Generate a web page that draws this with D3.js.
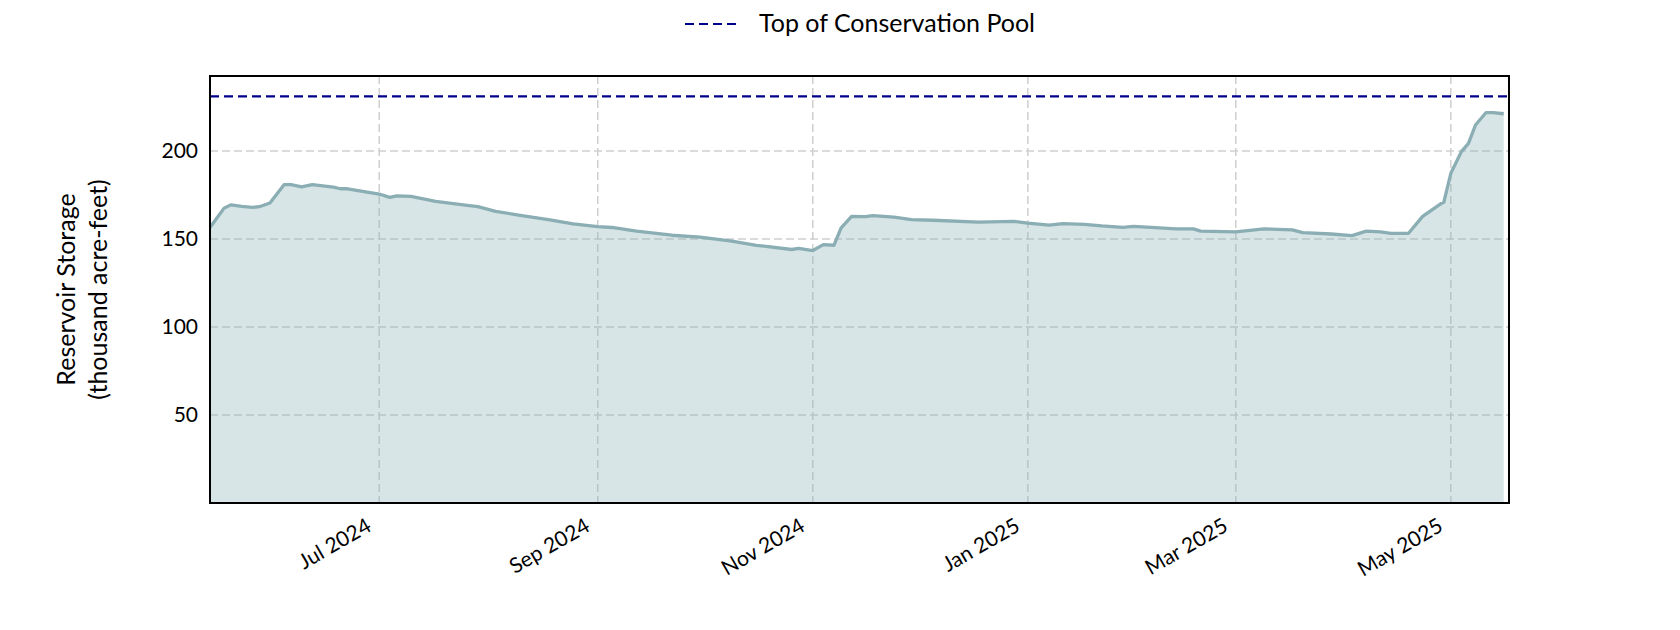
<!DOCTYPE html>
<html>
<head>
<meta charset="utf-8">
<script src="https://cdn.jsdelivr.net/npm/d3@7"></script>
<style>
  body { margin: 0; background: #fff; }
  svg text { font-family: Lato, "Noto Sans", sans-serif; fill: #000; }
</style>
</head>
<body>
<svg id="chart" width="1680" height="630"></svg>
<script>
// storage readings (thousand acre-feet)
const dates = [
  '2024-05-14', '2024-05-18', '2024-05-20', '2024-05-23', '2024-05-26', '2024-05-28', '2024-05-31',
  '2024-06-04', '2024-06-06', '2024-06-09', '2024-06-12', '2024-06-18', '2024-06-20', '2024-06-22',
  '2024-07-01', '2024-07-04', '2024-07-06', '2024-07-10', '2024-07-17', '2024-07-26', '2024-07-29',
  '2024-08-03', '2024-08-10', '2024-08-18', '2024-08-25', '2024-09-01', '2024-09-05', '2024-09-12',
  '2024-09-22', '2024-09-30', '2024-10-09', '2024-10-16', '2024-10-26', '2024-10-28', '2024-11-01',
  '2024-11-04', '2024-11-07', '2024-11-09', '2024-11-12', '2024-11-16', '2024-11-18', '2024-11-24',
  '2024-11-29', '2024-12-05', '2024-12-18', '2024-12-28', '2025-01-01', '2025-01-07', '2025-01-11',
  '2025-01-17', '2025-01-22', '2025-01-28', '2025-01-31', '2025-02-05', '2025-02-12', '2025-02-17',
  '2025-02-19', '2025-03-01', '2025-03-09', '2025-03-17', '2025-03-20', '2025-03-28', '2025-04-03',
  '2025-04-07', '2025-04-11', '2025-04-14', '2025-04-19', '2025-04-23', '2025-04-28', '2025-04-29',
  '2025-05-01', '2025-05-04', '2025-05-06', '2025-05-08', '2025-05-11', '2025-05-13', '2025-05-16'
];
const storage = [
  156.5, 167.5, 169.4, 168.5, 167.9, 168.3, 170.4,
  180.8, 180.8, 179.6, 180.8, 179.4, 178.5, 178.5,
  175.5, 173.6, 174.5, 174.2, 171.3, 169.1, 168.3,
  165.7, 163.4, 161.0, 158.5, 157.0, 156.5, 154.4,
  152.1, 151.0, 148.7, 146.4, 144.0, 144.6, 143.4,
  146.8, 146.4, 156.2, 162.8, 162.7, 163.2, 162.4,
  161.0, 160.6, 159.6, 160.0, 159.0, 157.8, 158.7,
  158.3, 157.4, 156.6, 157.1, 156.6, 155.7, 155.7,
  154.4, 154.0, 155.7, 155.1, 153.6, 152.8, 151.9,
  154.4, 154.0, 153.2, 153.2, 162.8, 169.8, 170.8,
  187.3, 199.6, 204.3, 214.7, 221.8, 221.8, 221.1
];
const conservationPool = 231;
const yTicks = [50, 100, 150, 200];
const xTicks = ['2024-07-01', '2024-09-01', '2024-11-01', '2025-01-01', '2025-03-01', '2025-05-01'];
const legendLabel = 'Top of Conservation Pool';

const parse = d3.timeParse('%Y-%m-%d');
const data = dates.map((d, i) => ({date: parse(d), value: storage[i]}));

const margin = {left: 210, right: 171, top: 76, bottom: 127};
const W = 1680, H = 630;
const innerW = W - margin.left - margin.right;
const innerH = H - margin.top - margin.bottom;

const svg = d3.select('#chart');
const g = svg.append('g').attr('transform', `translate(${margin.left},${margin.top})`);

const x = d3.scaleTime()
  .domain([parse('2024-05-14'), d3.timeHour.offset(parse('2025-05-17'), 12)])
  .range([0, innerW]);
const y = d3.scaleLinear()
  .domain([0, conservationPool * 1.05])
  .range([innerH, 0]);

// grid
g.append('g').selectAll('line.hgrid').data(yTicks).join('line')
  .attr('x1', 0).attr('x2', innerW)
  .attr('y1', d => y(d)).attr('y2', d => y(d))
  .attr('stroke', '#cfcfcf').attr('stroke-width', 1.5).attr('stroke-dasharray', '8,4');
g.append('g').selectAll('line.vgrid').data(xTicks).join('line')
  .attr('x1', d => x(parse(d))).attr('x2', d => x(parse(d)))
  .attr('y1', 0).attr('y2', innerH)
  .attr('stroke', '#cfcfcf').attr('stroke-width', 1.5).attr('stroke-dasharray', '8,4');

// storage area + line
let area = d3.area().x(d => x(d.date)).y0(y(0)).y1(d => y(d.value));
g.append('path').datum(data).attr('d', area)
  .attr('fill', '#8ab2b8').attr('fill-opacity', 0.34);
let line = d3.line().x(d => x(d.date)).y(d => y(d.value));
g.append('path').datum(data).attr('d', line)
  .attr('fill', 'none').attr('stroke', '#8aaeb3').attr('stroke-width', 3.3)
  .attr('stroke-linejoin', 'round');

// conservation pool
g.append('line')
  .attr('x1', 0).attr('x2', innerW)
  .attr('y1', y(conservationPool)).attr('y2', y(conservationPool))
  .attr('stroke', '#00008b').attr('stroke-width', 2.2).attr('stroke-dasharray', '9,5');

// frame
g.append('rect').attr('width', innerW).attr('height', innerH)
  .attr('fill', 'none').attr('stroke', '#000').attr('stroke-width', 2);

// y axis labels
const yAxis = g.append('g').call(d3.axisLeft(y).tickValues(yTicks).tickSize(0).tickPadding(12));
yAxis.select('.domain').remove();
yAxis.selectAll('text').style('font-size', '21px');

// x axis labels
const xAxis = g.append('g').attr('transform', `translate(0,${innerH})`)
  .call(d3.axisBottom(x).tickValues(xTicks.map(parse)).tickFormat(d3.timeFormat('%b %Y')).tickSize(0));
xAxis.select('.domain').remove();
xAxis.selectAll('text')
  .style('font-size', '21px')
  .attr('text-anchor', 'end')
  .attr('dy', null)
  .attr('y', 0)
  .attr('transform', 'translate(-7,27) rotate(-30)');

// y title
const yt = svg.append('text')
  .attr('transform', `translate(81,${margin.top + innerH / 2}) rotate(-90)`)
  .attr('text-anchor', 'middle')
  .style('font-size', '25px');
yt.append('tspan').attr('x', 0).attr('dy', '-0.25em').text('Reservoir Storage');
yt.append('tspan').attr('x', 0).attr('dy', '1.28em').text('(thousand acre-feet)');

// legend
const leg = svg.append('g').attr('transform', 'translate(685,24)');
leg.append('line').attr('x1', 0).attr('x2', 51).attr('y1', 0).attr('y2', 0)
  .attr('stroke', '#00008b').attr('stroke-width', 2.2).attr('stroke-dasharray', '9,5');
leg.append('text').attr('x', 74).attr('y', 8).style('font-size', '25px').text(legendLabel);
</script>
</body>
</html>
